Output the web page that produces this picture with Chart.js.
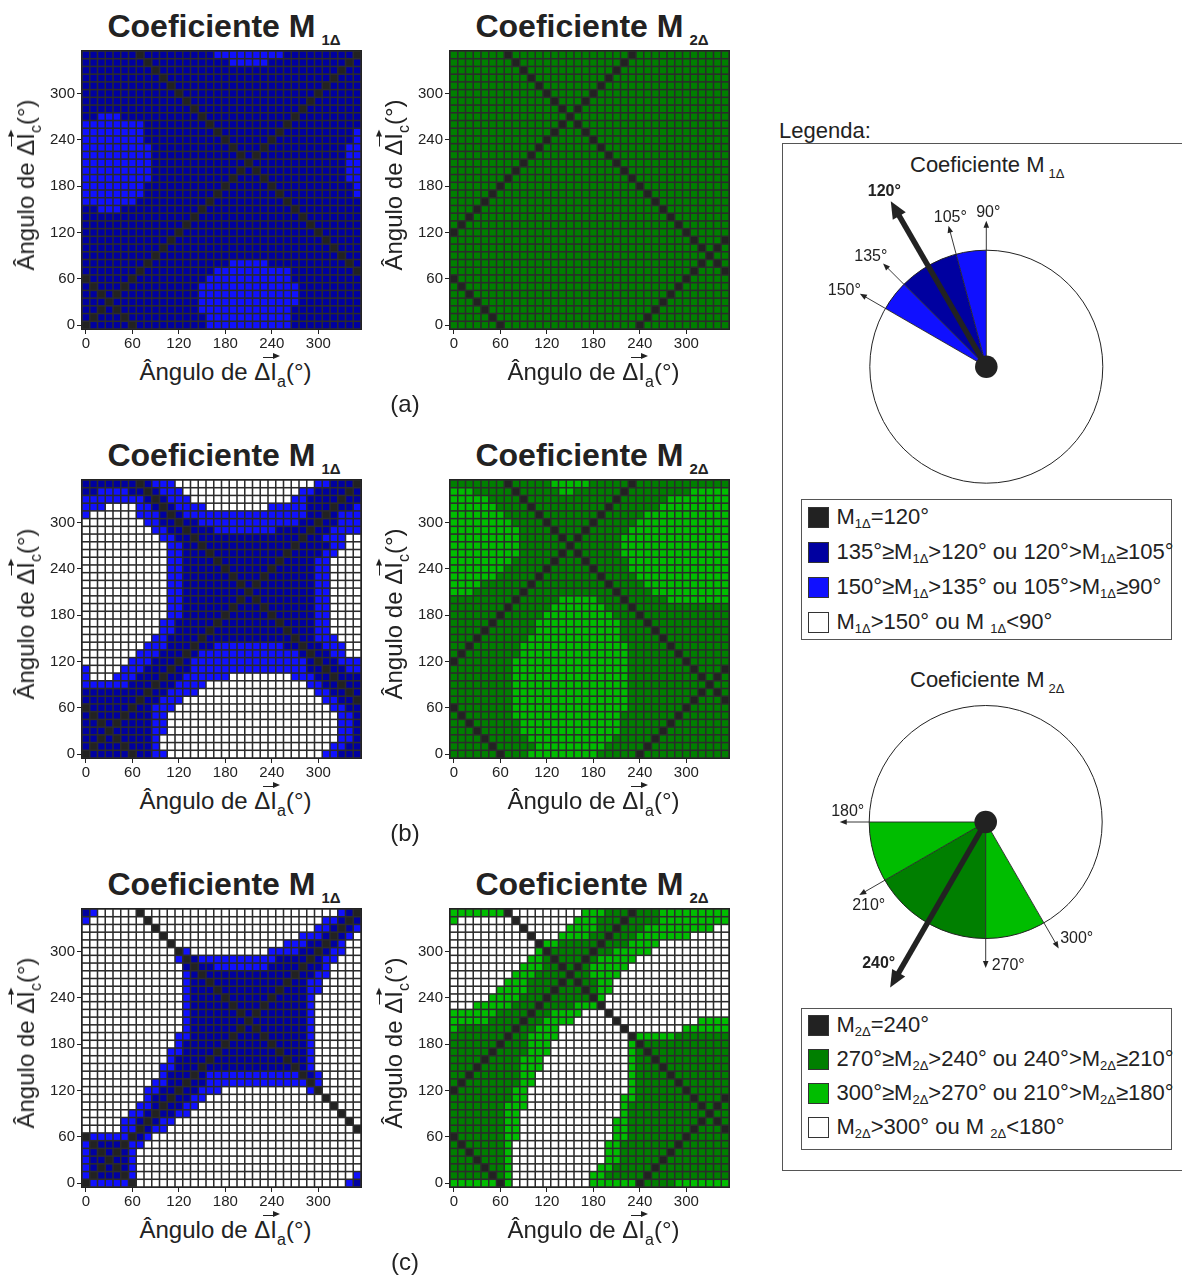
<!DOCTYPE html>
<html lang="pt">
<head>
<meta charset="utf-8">
<title>Coeficientes M1Δ e M2Δ</title>
<script src="https://cdn.jsdelivr.net/npm/chart.js@4.4.1/dist/chart.umd.min.js"></script>
<style>
  html, body { margin: 0; padding: 0; background: #fff; overflow: hidden; }
  #page { position: relative; width: 1182px; height: 1278px; overflow: hidden;
          font-family: "Liberation Sans", Arial, Helvetica, sans-serif; color: #222; }
  #page canvas { position: absolute; }
  .t { position: absolute; white-space: nowrap; line-height: 1; }
  .t sub { line-height: 0; }
  .title { font-size: 32px; font-weight: bold; transform: translateX(-50%); }
  .title sub { font-size: 15px; vertical-align: -8px; margin-left: 6px; }
  .axis { font-size: 24px; }
  .axis sub { font-size: 16px; vertical-align: -7px; }
  .xaxis { transform: translateX(-50%); }
  .yaxis { transform: translate(-50%, -50%) rotate(-90deg); }
  .vec { position: relative; }
  .vec::before { content: ""; position: absolute; left: -7px; width: 12px; top: -1px; border-top: 1.3px solid #222; }
  .vec::after { content: ""; position: absolute; left: 3px; top: -4.3px; border-left: 7px solid #222;
                border-top: 3.3px solid transparent; border-bottom: 3.3px solid transparent; }
  .panel { font-size: 24px; transform: translateX(-50%); }
  .lg { font-size: 22px; }
  .lg sub { font-size: 13px; vertical-align: -4px; }
  .lgt { font-size: 22px; }
  .lgt sub { font-size: 13px; vertical-align: -6px; margin-left: 4px; }
  .box { position: absolute; border: 1px solid #555; box-sizing: border-box; }
  .frame { position: absolute; border-top: 1px solid #555; border-left: 1px solid #555; border-bottom: 1px solid #555; box-sizing: border-box; }
  .sw { position: absolute; width: 21px; height: 21px; box-sizing: border-box; border: 1px solid #333; }
</style>
</head>
<body>
<div id="page"></div>
<script>
// Angle grid shared by both axes (degrees) and the labelled ticks
const angleSteps = [0,10,20,30,40,50,60,70,80,90,100,110,120,130,140,150,160,170,
                    180,190,200,210,220,230,240,250,260,270,280,290,300,310,320,330,340,350];
const angleLabels = angleSteps.map(String);
const tickAngles = [0, 60, 120, 180, 240, 300];

// Band limits of each coefficient and its reference angle
const m1Edges = [90, 105, 120, 135, 150];
const m1Ref = 120;
const m2Edges = [180, 210, 240, 270, 300];
const m2Ref = 240;

// Cell classes, one row per angle of ΔIc from 350° (top) down to 0°, columns ΔIa = 0°..350°
// K = reference angle, D = inner band, L = outer band, W = outside the bands
const gridM1a = [
  "DDDDDD DKDDDD DDDDDL LLLLLL LLDDDD DDDDDK",
  "DDDDDD DDKDDD DDDDDD DLLLLL DDDDDD DDDDKD",
  "DDDDDD DDDKDD DDDDDD DDDDDD DDDDDD DDDKDD",
  "DDDDDD DDDDKD DDDDDD DDDDDD DDDDDD DDKDDD",
  "DDDDDD DDDDDK DDDDDD DDDDDD DDDDDD DKDDDD",
  "DDDDDD DDDDDD KDDDDD DDDDDD DDDDDD KDDDDD",
  "DDDDDD DDDDDD DKDDDD DDDDDD DDDDDK DDDDDD",
  "DDDDDD DDDDDD DDKDDD DDDDDD DDDDKD DDDDDD",
  "DDLLLD DDDDDD DDDKDD DDDDDD DDDKDD DDDDDD",
  "LLLLLL LLDDDD DDDDKD DDDDDD DDKDDD DDDDDD",
  "LLLLLL LLDDDD DDDDDK DDDDDD DKDDDD DDDDDL",
  "LLLLLL LLDDDD DDDDDD KDDDDD KDDDDD DDDDDL",
  "LLLLLL LLLDDD DDDDDD DKDDDK DDDDDD DDDDLL",
  "LLLLLL LLLDDD DDDDDD DDKDKD DDDDDD DDDDLL",
  "LLLLLL LLLDDD DDDDDD DDDKDD DDDDDD DDDDLL",
  "LLLLLL LLLDDD DDDDDD DDKDKD DDDDDD DDDDLL",
  "LLLLLL LLLDDD DDDDDD DKDDDK DDDDDD DDDDLL",
  "LLLLLL LLDDDD DDDDDD KDDDDD KDDDDD DDDDDL",
  "LLLLLL LLDDDD DDDDDK DDDDDD DKDDDD DDDDDL",
  "LLLLLL LDDDDD DDDDKD DDDDDD DDKDDD DDDDDD",
  "DDLLLD DDDDDD DDDKDD DDDDDD DDDKDD DDDDDD",
  "DDDDDD DDDDDD DDKDDD DDDDDD DDDDKD DDDDDD",
  "DDDDDD DDDDDD DKDDDD DDDDDD DDDDDK DDDDDD",
  "DDDDDD DDDDDD KDDDDD DDDDDD DDDDDD KDDDDD",
  "DDDDDD DDDDDK DDDDDD DDDDDD DDDDDD DKDDDD",
  "DDDDDD DDDDKD DDDDDD DDDDDD DDDDDD DDKDDD",
  "DDDDDD DDDKDD DDDDDD DDDDDD DDDDDD DDDKDD",
  "DDDDDD DDKDDD DDDDDD DLLLLL DDDDDD DDDDKD",
  "DDDDDD DKDDDD DDDDDL LLLLLL LLLDDD DDDDDK",
  "KDDDDD KDDDDD DDDDLL LLLLLL LLLDDD DDDDDD",
  "DKDDDK DDDDDD DDDLLL LLLLLL LLLLDD DDDDDD",
  "DDKDKD DDDDDD DDDLLL LLLLLL LLLLDD DDDDDD",
  "DDDKDD DDDDDD DDDLLL LLLLLL LLLLDD DDDDDD",
  "DDKDKD DDDDDD DDDLLL LLLLLL LLLDDD DDDDDD",
  "DKDDDK DDDDDD DDDDLL LLLLLL LLLDDD DDDDDD",
  "KDDDDD KDDDDD DDDDLL LLLLLL LLLDDD DDDDDD"
];
const gridM2a = [
  "DDDDDD DKDDDD DDDDDD DDDDDK DDDDDD DDDDDD",
  "DDDDDD DDKDDD DDDDDD DDDDKD DDDDDD DDDDDD",
  "DDDDDD DDDKDD DDDDDD DDDKDD DDDDDD DDDDDD",
  "DDDDDD DDDDKD DDDDDD DDKDDD DDDDDD DDDDDD",
  "DDDDDD DDDDDK DDDDDD DKDDDD DDDDDD DDDDDD",
  "DDDDDD DDDDDD KDDDDD KDDDDD DDDDDD DDDDDD",
  "DDDDDD DDDDDD DKDDDK DDDDDD DDDDDD DDDDDD",
  "DDDDDD DDDDDD DDKDKD DDDDDD DDDDDD DDDDDD",
  "DDDDDD DDDDDD DDDKDD DDDDDD DDDDDD DDDDDD",
  "DDDDDD DDDDDD DDKDKD DDDDDD DDDDDD DDDDDD",
  "DDDDDD DDDDDD DKDDDK DDDDDD DDDDDD DDDDDD",
  "DDDDDD DDDDDD KDDDDD KDDDDD DDDDDD DDDDDD",
  "DDDDDD DDDDDK DDDDDD DKDDDD DDDDDD DDDDDD",
  "DDDDDD DDDDKD DDDDDD DDKDDD DDDDDD DDDDDD",
  "DDDDDD DDDKDD DDDDDD DDDKDD DDDDDD DDDDDD",
  "DDDDDD DDKDDD DDDDDD DDDDKD DDDDDD DDDDDD",
  "DDDDDD DKDDDD DDDDDD DDDDDK DDDDDD DDDDDD",
  "DDDDDD KDDDDD DDDDDD DDDDDD KDDDDD DDDDDD",
  "DDDDDK DDDDDD DDDDDD DDDDDD DKDDDD DDDDDD",
  "DDDDKD DDDDDD DDDDDD DDDDDD DDKDDD DDDDDD",
  "DDDKDD DDDDDD DDDDDD DDDDDD DDDKDD DDDDDD",
  "DDKDDD DDDDDD DDDDDD DDDDDD DDDDKD DDDDDD",
  "DKDDDD DDDDDD DDDDDD DDDDDD DDDDDK DDDDDD",
  "KDDDDD DDDDDD DDDDDD DDDDDD DDDDDD KDDDDD",
  "DDDDDD DDDDDD DDDDDD DDDDDD DDDDDD DKDDDK",
  "DDDDDD DDDDDD DDDDDD DDDDDD DDDDDD DDKDKD",
  "DDDDDD DDDDDD DDDDDD DDDDDD DDDDDD DDDKDD",
  "DDDDDD DDDDDD DDDDDD DDDDDD DDDDDD DDKDKD",
  "DDDDDD DDDDDD DDDDDD DDDDDD DDDDDD DKDDDK",
  "KDDDDD DDDDDD DDDDDD DDDDDD DDDDDD KDDDDD",
  "DKDDDD DDDDDD DDDDDD DDDDDD DDDDDK DDDDDD",
  "DDKDDD DDDDDD DDDDDD DDDDDD DDDDKD DDDDDD",
  "DDDKDD DDDDDD DDDDDD DDDDDD DDDKDD DDDDDD",
  "DDDDKD DDDDDD DDDDDD DDDDDD DDKDDD DDDDDD",
  "DDDDDK DDDDDD DDDDDD DDDDDD DKDDDD DDDDDD",
  "DDDDDD KDDDDD DDDDDD DDDDDD KDDDDD DDDDDD"
];
const gridM1b = [
  "DDDDDD DKDLLL WWWWWW WWWWWW WWWWWW LLDDDK",
  "DDLLLL DDKDLL LWWWWW WWWWWW WWWWLL DDDDKD",
  "LLLLLL LLDKDL LLWWWW WWWWWW WWWLLD DDDKDD",
  "LLLWWW WLLDKD LLLLWW WWWWWW LLLLLD DDKDDL",
  "LWWWWW WLLLDK DLLLLL LLLLLL LLLLLD DKDLLL",
  "WWWWWW WWLLDD KDDLLL LLLLLL LLLLDD KDDLLL",
  "WWWWWW WWWLLD DKDDDL LLLLLL LDDDDK DDLLLL",
  "WWWWWW WWWWLL DDKDDD DDDDDD DDDDKD DLLLWW",
  "WWWWWW WWWWWL LDDKDD DDDDDD DDDKDD DDLLWW",
  "WWWWWW WWWWWL LDDDKD DDDDDD DDKDDD DLLWWW",
  "WWWWWW WWWWWL LDDDDK DDDDDD DKDDDD LLWWWW",
  "WWWWWW WWWWWL LDDDDD KDDDDD KDDDDD LLWWWW",
  "WWWWWW WWWWWL LDDDDD DKDDDK DDDDDD LLWWWW",
  "WWWWWW WWWWWL LDDDDD DDKDKD DDDDDD LLWWWW",
  "WWWWWW WWWWWL LDDDDD DDDKDD DDDDDD LLWWWW",
  "WWWWWW WWWWWL LDDDDD DDKDKD DDDDDD LLWWWW",
  "WWWWWW WWWWWL LDDDDD DKDDDK DDDDDD LLWWWW",
  "WWWWWW WWWWWL LDDDDD KDDDDD KDDDDD LLWWWW",
  "WWWWWW WWWWLL DDDDDK DDDDDD DKDDDD LLWWWW",
  "WWWWWW WWWWLL DDDDKD DDDDDD DDKDDD LLWWWW",
  "WWWWWW WWWLLD DDDKDD DDDDDD DDDKDD LLLWWW",
  "WWWWWW WWLLLD DDKDDL LLLLLL LLDDKD DLLLWW",
  "WWWWWW WLLLDD DKDLLL LLLLLL LLLLDK DDLLWW",
  "WWWWWW LLLDDD KDLLLL LLLLLL LLLLLD KDDLLL",
  "LWWWWL LLDDDK DDLLLL LLLLLL LLLLLD DKDDLL",
  "LWWWLL LDDDKD DLLLLL LWWWWW WWWLLL DDKDDD",
  "LLLLLL DDDKDD LLLLWW WWWWWW WWWWWL LDDKDD",
  "DDDDDD DDKDDL LLLWWW WWWWWW WWWWWW LLDDKD",
  "DDDDDD DKDDLL LWWWWW WWWWWW WWWWWW WLLDDK",
  "KDDDDD KDDLLL WWWWWW WWWWWW WWWWWW WWLLDD",
  "DKDDDK DDDLLW WWWWWW WWWWWW WWWWWW WWWLLD",
  "DDKDKD DDDLLW WWWWWW WWWWWW WWWWWW WWWLLD",
  "DDDKDD DDDLLW WWWWWW WWWWWW WWWWWW WWWLLD",
  "DDKDKD DDDLWW WWWWWW WWWWWW WWWWWW WWWLLD",
  "DKDDDK DDDLWW WWWWWW WWWWWW WWWWWW WWLLDD",
  "KDDDDD KDDLLW WWWWWW WWWWWW WWWWWW WLLDDD"
];
const gridM2b = [
  "DDDDDD DKDDDD DLLLLL DDDDDK DDDDDD DDDDDD",
  "LLLDDD DDKDDD DDLLDD DDDDKD DDDDDD DLLLLL",
  "LLLLLD DDDKDD DDDDDD DDDKDD DDDDLL LLLLLL",
  "LLLLLL DDDDKD DDDDDD DDKDDD DDDLLL LLLLLL",
  "LLLLLL LDDDDK DDDDDD DKDDDD DLLLLL LLLLLL",
  "LLLLLL LLDDDD KDDDDD KDDDDD LLLLLL LLLLLL",
  "LLLLLL LLLDDD DKDDDK DDDDDL LLLLLL LLLLLL",
  "LLLLLL LLLDDD DDKDKD DDDDLL LLLLLL LLLLLL",
  "LLLLLL LLLDDD DDDKDD DDDDLL LLLLLL LLLLLL",
  "LLLLLL LLLDDD DDKDKD DDDDLL LLLLLL LLLLLL",
  "LLLLLL LLDDDD DKDDDK DDDDDL LLLLLL LLLLLL",
  "LLLLLL LDDDDD KDDDDD KDDDDL LLLLLL LLLLLL",
  "LLLLLL DDDDDK DDDDDD DKDDDD LLLLLL LLLLLL",
  "LLLLDD DDDDKD DDDDDD DDKDDD DLLLLL LLLLLL",
  "LLLDDD DDDKDD DDDDDD DDDKDD DDLLLL LLLLLL",
  "DDDDDD DDKDDD DDLLLL LDDDKD DDDDLL LLLLLL",
  "DDDDDD DKDDDD DLLLLL LLDDDK DDDDDD DDDDDD",
  "DDDDDD KDDDDD LLLLLL LLLDDD KDDDDD DDDDDD",
  "DDDDDK DDDDDL LLLLLL LLLLDD DKDDDD DDDDDD",
  "DDDDKD DDDDDL LLLLLL LLLLDD DDKDDD DDDDDD",
  "DDDKDD DDDDLL LLLLLL LLLLDD DDDKDD DDDDDD",
  "DDKDDD DDDLLL LLLLLL LLLLLD DDDDKD DDDDDD",
  "DKDDDD DDDLLL LLLLLL LLLLLD DDDDDK DDDDDD",
  "KDDDDD DDLLLL LLLLLL LLLLLD DDDDDD KDDDDD",
  "DDDDDD DDLLLL LLLLLL LLLLLD DDDDDD DKDDDK",
  "DDDDDD DDLLLL LLLLLL LLLLLD DDDDDD DDKDKD",
  "DDDDDD DDLLLL LLLLLL LLLLLD DDDDDD DDDKDD",
  "DDDDDD DDLLLL LLLLLL LLLLLD DDDDDD DDKDKD",
  "DDDDDD DDLLLL LLLLLL LLLLLD DDDDDD DKDDDK",
  "KDDDDD DDLLLL LLLLLL LLLLLD DDDDDD KDDDDD",
  "DKDDDD DDLLLL LLLLLL LLLLDD DDDDDK DDDDDD",
  "DDKDDD DDDLLL LLLLLL LLLLDD DDDDKD DDDDDD",
  "DDDKDD DDDLLL LLLLLL LLLLDD DDDKDD DDDDDD",
  "DDDDKD DDDDLL LLLLLL LLLDDD DDKDDD DDDDDD",
  "DDDDDK DDDDDL LLLLLL LLDDDD DKDDDD DDDDDD",
  "DDDDDD KDDDLL LLLLLL LDDDDD KDDDDD DDDDDD"
];
const gridM1c = [
  "DLWWWW WKWWWW WWWWWW WWWWWW WWWWWW WWWLDK",
  "LWWWWW WWKWWW WWWWWW WWWWWW WWWWWW WLLDKD",
  "WWWWWW WWWKWW WWWWWW WWWWWW WWWWWW LLDKDL",
  "WWWWWW WWWWKW WWWWWW WWWWWW WWWWLL LDKDLW",
  "WWWWWW WWWWWK WWWWWW WWWWWW WWLLLD DKDLWW",
  "WWWWWW WWWWWW KLWWWW WWWWWW LLLLDD KDLLWW",
  "WWWWWW WWWWWW LKDLLL LLLLLL LDDDDK DLLWWW",
  "WWWWWW WWWWWW WDKDDL LLLLLL DDDDKD DLWWWW",
  "WWWWWW WWWWWW WLDKDD DDDDDD DDDKDD LLWWWW",
  "WWWWWW WWWWWW WLDDKD DDDDDD DDKDDL LWWWWW",
  "WWWWWW WWWWWW WLDDDK DDDDDD DKDDDL LWWWWW",
  "WWWWWW WWWWWW WLDDDD KDDDDD KDDDDL WWWWWW",
  "WWWWWW WWWWWW WLDDDD DKDDDK DDDDDL WWWWWW",
  "WWWWWW WWWWWW WLDDDD DDKDKD DDDDDL WWWWWW",
  "WWWWWW WWWWWW WLDDDD DDDKDD DDDDDL WWWWWW",
  "WWWWWW WWWWWW WLDDDD DDKDKD DDDDDL WWWWWW",
  "WWWWWW WWWWWW LLDDDD DKDDDK DDDDDL WWWWWW",
  "WWWWWW WWWWWW LDDDDD KDDDDD KDDDDL WWWWWW",
  "WWWWWW WWWWWL LDDDDK DDDDDD DKDDDL WWWWWW",
  "WWWWWW WWWWWL DDDDKD DDDDDD DDKDDL WWWWWW",
  "WWWWWW WWWWLL DDDKDD DDDDDD DDDKDL WWWWWW",
  "WWWWWW WWWWLD DDKDLL LLLLLL LLLLKD LWWWWW",
  "WWWWWW WWWLLD DKDDLL LLLLLL LLLLLK LWWWWW",
  "WWWWWW WWLLDD KDDLLL WWWWWW WWWWWL KWWWWW",
  "WWWWWW WWLDDK DDLLWW WWWWWW WWWWWW WKWWWW",
  "WWWWWW WLLDKD DLLWWW WWWWWW WWWWWW WWKWWW",
  "WWWWWW LLDKDD LLWWWW WWWWWW WWWWWW WWWKWW",
  "WWWWWL LDKDLL WWWWWW WWWWWW WWWWWW WWWWKW",
  "WWWWWL LKDLLW WWWWWW WWWWWW WWWWWW WWWWWK",
  "KLLLLL KDLWWW WWWWWW WWWWWW WWWWWW WWWWWW",
  "LKDDDK LLWWWW WWWWWW WWWWWW WWWWWW WWWWWW",
  "LDKDKD LWWWWW WWWWWW WWWWWW WWWWWW WWWWWW",
  "LDDKDD LWWWWW WWWWWW WWWWWW WWWWWW WWWWWW",
  "LDKDKD LWWWWW WWWWWW WWWWWW WWWWWW WWWWWW",
  "LKDDDK LWWWWW WWWWWW WWWWWW WWWWWW WWWWWL",
  "KLLLLL KWWWWW WWWWWW WWWWWW WWWWWW WWWWLD"
];
const gridM2c = [
  "LLLLLL LKWWWW WWWWWL LLDDDK DDDLLL LLLLLL",
  "LWWWWW WWKWWW WWWWLL LDDDKD DDDLLL LLLLLL",
  "WWWWWW WWWKWW WWWLLL LDDKDD DLLLLL LLLLWW",
  "WWWWWW WWWWKW WWLLLL DDKDDD LLLLLL LWWWWW",
  "WWWWWW WWWWWK LLDDDD DKDDDL LLLWWW WWWWWW",
  "WWWWWW WWWWWL KDDDDD KDDLLL LLWWWW WWWWWW",
  "WWWWWW WWWWLL DKDDDK DLLLLL WWWWWW WWWWWW",
  "WWWWWW WWWLLL DDKDKD LLLLLW WWWWWW WWWWWW",
  "WWWWWW WWLLLD DDDKDD LLLLWW WWWWWW WWWWWW",
  "WWWWWW WLLLDD DDKDKD DLLWWW WWWWWW WWWWWW",
  "WWWWWW LLLLDD DKDDDK DLLWWW WWWWWW WWWWWW",
  "WWWWWL LLLDDD KDDDDD KLWWWW WWWWWW WWWWWW",
  "WWWLLL LLDDDK DDDDLL LKWWWW WWWWWW WWWWWW",
  "LLLLLL DDDDKD DLLLLW WWKWWW WWWWWW WWWWWW",
  "LLLLLD DDDKDD LLLLWW WWWKWW WWWWWW WWLLLL",
  "LDDDDD DDKDDL LLWWWW WWWWKW WWWWWW LLLLLL",
  "DDDDDD DKDDLL LLWWWW WWWWWK LLLLLD DDDDDD",
  "DDDDDD KDDDLL LWWWWW WWWWWL KDDDDD DDDDDD",
  "DDDDDK DDDDLL LWWWWW WWWWWL DKDDDD DDDDDD",
  "DDDDKD DDDLLL WWWWWW WWWWWL DDKDDD DDDDDD",
  "DDDKDD DDDLLL WWWWWW WWWWWL DDDKDD DDDDDD",
  "DDKDDD DDDLLW WWWWWW WWWWWL DDDDKD DDDDDD",
  "DKDDDD DDDLLW WWWWWW WWWWWL DDDDDK DDDDDD",
  "KDDDDD DDLLWW WWWWWW WWWWWL DDDDDD KDDDDD",
  "DDDDDD DDLLWW WWWWWW WWWWLL DDDDDD DKDDDK",
  "DDDDDD DLLLWW WWWWWW WWWWLD DDDDDD DDKDKD",
  "DDDDDD DLLWWW WWWWWW WWWWLD DDDDDD DDDKDD",
  "DDDDDD DLLWWW WWWWWW WWWLLD DDDDDD DDKDKD",
  "DDDDDD DLLWWW WWWWWW WWWLLD DDDDDD DKDDDK",
  "KDDDDD DLLWWW WWWWWW WWWLLD DDDDDD KDDDDD",
  "DKDDDD DLWWWW WWWWWW WWLLDD DDDDDK DDDDDD",
  "DDKDDD DLWWWW WWWWWW WWLLDD DDDDKD DDDDDD",
  "DDDKDD DLWWWW WWWWWW WWLLDD DDDKDD DDDDDD",
  "DDDDKD DLWWWW WWWWWW WLLDDD DDKDDD DDDDDD",
  "DDDDDK DLWWWW WWWWWW LLDDDD DKDDDD DDDDDD",
  "LLLLLL KLWWWW WWWWWW LLLLLL KDDDDL LLLLLL"
];

// Colours of the four classes for each coefficient
const bluePalette  = { K: '#222222', D: '#0000a0', L: '#1010ff', W: '#ffffff' };
const greenPalette = { K: '#222222', D: '#007f00', L: '#00bd00', W: '#ffffff' };

const FONT = '"Liberation Sans", Arial, Helvetica, sans-serif';
const INK = '#222222';
const GAP = '#2b2b2b';
const page = document.getElementById('page');

function addText(cls, html, left, top) {
  const d = document.createElement('div');
  d.className = 't ' + cls;
  d.innerHTML = html;
  d.style.left = left + 'px';
  d.style.top = top + 'px';
  page.appendChild(d);
  return d;
}
function addCanvas(left, top, w, h) {
  const c = document.createElement('canvas');
  c.width = w; c.height = h;
  c.style.left = left + 'px'; c.style.top = top + 'px';
  page.appendChild(c);
  return c;
}

// Dark background behind the cells shows through as the grid lines, plus a frame
const plotFrame = {
  id: 'plotFrame',
  beforeDatasetsDraw(chart) {
    const { ctx, chartArea: a } = chart;
    ctx.save();
    ctx.fillStyle = GAP;
    ctx.fillRect(a.left, a.top, a.width, a.height);
    ctx.restore();
  },
  afterDatasetsDraw(chart) {
    const { ctx, chartArea: a } = chart;
    ctx.save();
    ctx.strokeStyle = INK;
    ctx.lineWidth = 1;
    ctx.strokeRect(a.left - 0.5, a.top - 0.5, a.width + 1, a.height + 1);
    ctx.restore();
  }
};

function drawHeatmap(canvas, rows, palette) {
  const n = angleSteps.length;
  const datasets = rows.map((row, r) => {
    const cells = row.replace(/\s+/g, '').split('');
    const yVal = angleSteps[n - 1 - r];
    return {
      data: cells.map(() => [yVal - 4, yVal + 4]),
      backgroundColor: cells.map(c => palette[c]),
      borderWidth: 0,
      inflateAmount: 0,
      barPercentage: 0.8,
      categoryPercentage: 1,
      grouped: false
    };
  });
  return new Chart(canvas, {
    type: 'bar',
    data: { labels: angleLabels, datasets },
    options: {
      responsive: false,
      animation: false,
      events: [],
      layout: { padding: { top: 3, right: 3, left: 0, bottom: 0 } },
      plugins: { legend: { display: false }, tooltip: { enabled: false } },
      scales: {
        x: {
          type: 'category',
          offset: true,
          grid: { drawOnChartArea: false, offset: false, tickLength: 5, tickColor: INK, tickWidth: 1 },
          border: { display: false },
          ticks: { autoSkip: false, maxRotation: 0, padding: 1, color: INK, font: { family: FONT, size: 15 } },
          afterBuildTicks: s => { s.ticks = tickAngles.map(v => ({ value: angleLabels.indexOf(String(v)) })); },
          afterFit: s => { s.height = 25; s.paddingLeft = 0; s.paddingRight = 0; }
        },
        y: {
          type: 'linear',
          min: -5,
          max: 355,
          grid: { drawOnChartArea: false, tickLength: 5, tickColor: INK, tickWidth: 1 },
          border: { display: false },
          ticks: { padding: 2, color: INK, font: { family: FONT, size: 15 } },
          afterBuildTicks: s => { s.ticks = tickAngles.map(v => ({ value: v })); },
          afterFit: s => { s.width = 40; s.paddingTop = 0; s.paddingBottom = 0; }
        }
      }
    },
    plugins: [plotFrame]
  });
}

// ---- the six maps ----
const panelTops = [51, 480, 909];
const panelLefts = [82, 450];
const PLOT_W = 279, PLOT_H = 278;
const panelNames = ['(a)', '(b)', '(c)'];
const coefSubs = ['1Δ', '2Δ'];
const grids = [[gridM1a, gridM2a], [gridM1b, gridM2b], [gridM1c, gridM2c]];
const palettes = [bluePalette, greenPalette];

panelTops.forEach((top, i) => {
  panelLefts.forEach((left, j) => {
    const cv = addCanvas(left - 40, top - 3, 40 + PLOT_W + 3, 3 + PLOT_H + 25);
    drawHeatmap(cv, grids[i][j], palettes[j]);
    addText('title', `Coeficiente M<sub>${coefSubs[j]}</sub>`, left + 142, top - 41.1);
    addText('axis xaxis', 'Ângulo de Δ<span class="vec">I</span><sub>a</sub>(°)', left + 143.5, top + 308.7);
    addText('axis yaxis', 'Ângulo de Δ<span class="vec">I</span><sub>c</sub>(°)', left - 56, top + 134);
  });
  addText('panel', panelNames[i], 405, top + 340.7);
});

// ---- legend ----
addText('lg', 'Legenda:', 779, 119.9);
const frame = document.createElement('div');
frame.className = 'frame';
Object.assign(frame.style, { left: '782px', top: '143px', width: '420px', height: '1028px' });
page.appendChild(frame);

function bandSlices(edges, ref, pal) {
  const values = [], colours = [];
  for (let i = edges.length - 1; i > 0; i--) {
    values.push(edges[i] - edges[i - 1]);
    colours.push(edges[i] === ref || edges[i - 1] === ref ? pal.D : pal.L);
  }
  values.push(360 - (edges[edges.length - 1] - edges[0]));
  colours.push(pal.W);
  return { values, colours };
}

function arrow(ctx, x0, y0, deg, len, width, headLen, headHalf) {
  const t = deg * Math.PI / 180, ux = Math.cos(t), uy = -Math.sin(t);
  const tx = x0 + ux * len, ty = y0 + uy * len;
  const bx = tx - ux * headLen, by = ty - uy * headLen;
  ctx.beginPath();
  ctx.moveTo(x0, y0);
  ctx.lineTo(bx + ux * 1, by + uy * 1);
  ctx.lineWidth = width;
  ctx.stroke();
  ctx.beginPath();
  ctx.moveTo(tx, ty);
  ctx.lineTo(bx - uy * headHalf, by + ux * headHalf);
  ctx.lineTo(bx + uy * headHalf, by - ux * headHalf);
  ctx.closePath();
  ctx.fill();
}

const dialPlugin = {
  id: 'dial',
  afterDatasetsDraw(chart, args, opts) {
    const arc = chart.getDatasetMeta(0).data[0];
    const cx = arc.x, cy = arc.y, R = arc.outerRadius;
    const ctx = chart.ctx;
    ctx.save();
    ctx.strokeStyle = INK;
    ctx.fillStyle = INK;
    ctx.beginPath();
    ctx.arc(cx, cy, R, 0, Math.PI * 2);
    ctx.lineWidth = 1;
    ctx.stroke();
    opts.edges.filter(a => a !== opts.ref).forEach(a => arrow(ctx, cx, cy, a, R * 1.253, 0.9, 7, 2.8));
    arrow(ctx, cx, cy, opts.ref, R * 1.64, 5.5, 17, 7.5);
    ctx.beginPath();
    ctx.arc(cx, cy, 11.3, 0, Math.PI * 2);
    ctx.fill();
    ctx.textAlign = 'center';
    ctx.textBaseline = 'middle';
    opts.edges.forEach(a => {
      const [dx, dy] = opts.spots[a];
      ctx.font = (a === opts.ref ? 'bold ' : '') + '16px ' + FONT;
      ctx.fillText(a + '°', cx + dx, cy + dy);
    });
    ctx.restore();
  }
};

function drawDial(canvas, edges, ref, pal, spots, pad) {
  const s = bandSlices(edges, ref, pal);
  return new Chart(canvas, {
    type: 'pie',
    data: { datasets: [{ data: s.values, backgroundColor: s.colours, borderWidth: 0, hoverOffset: 0 }] },
    options: {
      responsive: false,
      animation: false,
      events: [],
      rotation: 90 - edges[edges.length - 1],
      layout: { padding: pad },
      plugins: { legend: { display: false }, tooltip: { enabled: false }, dial: { edges, ref, spots } }
    },
    plugins: [dialPlugin]
  });
}

// label spots around each dial, relative to its centre
const dialSpots1 = { 90: [2, -154], 105: [-36, -149], 120: [-102, -175], 135: [-115.5, -110], 150: [-142, -76] };
const dialSpots2 = { 180: [-138, -10], 210: [-117, 83.5], 240: [-107, 142], 270: [22.5, 144], 300: [91, 117] };

addText('lgt', 'Coeficiente M<sub>1Δ</sub>', 910, 153.9);
drawDial(addCanvas(800, 167, 306, 323), m1Edges, m1Ref, bluePalette, dialSpots1,
         { left: 69.8, top: 83.2, right: 3.2, bottom: 6.8 });

addText('lgt', 'Coeficiente M<sub>2Δ</sub>', 910, 668.9);
drawDial(addCanvas(815, 697, 301, 310), m2Edges, m2Ref, greenPalette, dialSpots2,
         { left: 54.2, top: 8.5, right: 13.8, bottom: 68.5 });

function legendLines(sub, e, ref) {
  const M = `M<sub>${sub}</sub>`;
  return [
    `${M}=${ref}°`,
    `${e[3]}°≥${M}&gt;${ref}° ou ${ref}°&gt;${M}≥${e[1]}°`,
    `${e[4]}°≥${M}&gt;${e[3]}° ou ${e[1]}°&gt;${M}≥${e[0]}°`,
    `${M}&gt;${e[4]}° ou M <sub>${sub}</sub>&lt;${e[0]}°`
  ];
}
function legendBox(top, height, baselines, lines, pal) {
  const b = document.createElement('div');
  b.className = 'box';
  Object.assign(b.style, { left: '801px', top: top + 'px', width: '371px', height: height + 'px' });
  page.appendChild(b);
  const keys = ['K', 'D', 'L', 'W'];
  baselines.forEach((bl, k) => {
    const sw = document.createElement('div');
    sw.className = 'sw';
    Object.assign(sw.style, { left: '807.5px', top: (bl - 18.5) + 'px', background: pal[keys[k]] });
    page.appendChild(sw);
    addText('lg', lines[k], 836.5, bl - 18.6);
  });
}
legendBox(499, 141, [525, 560, 595, 630], legendLines('1Δ', m1Edges, m1Ref), bluePalette);
legendBox(1008, 142, [1033, 1067, 1101, 1135], legendLines('2Δ', m2Edges, m2Ref), greenPalette);
</script>
</body>
</html>
